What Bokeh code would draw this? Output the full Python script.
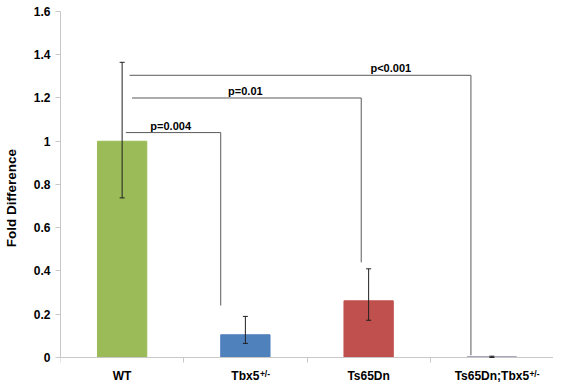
from bokeh.plotting import figure
from bokeh.models import ColumnDataSource, Range1d, FixedTicker, Whisker, TeeHead
from bokeh.core.properties import value
from bokeh.embed import file_html
from bokeh.resources import INLINE

# ---- data ----
categories = ["WT", "Tbx5", "Ts65Dn", "Ts65Dn;Tbx5"]
superscripts = ["", "+/-", "", "+/-"]
fold = [1.0, 0.105, 0.262, 0.003]
err_upper = [1.365, 0.19, 0.41, 0.006]
err_lower = [0.738, 0.065, 0.172, 0.0]
colors = ["#9BBB59", "#4F81BD", "#C0504D", "#8C8CA8"]
y_ticks = [0, 0.2, 0.4, 0.6, 0.8, 1.0, 1.2, 1.4, 1.6]
y_tick_labels = ["0", "0.2", "0.4", "0.6", "0.8", "1", "1.2", "1.4", "1.6"]

bracket_labels = ["p=0.004", "p=0.01", "p<0.001"]
bracket_left = [0.53, 0.58, 0.56]
bracket_right = [1.30, 2.44, 3.33]
bracket_top = [1.04, 1.20, 1.305]
bracket_bottom = [0.24, 0.44, 0.01]
bracket_label_x = [0.894, 1.50, 2.68]

FONT = "Liberation Sans"

xpos = [i + 0.5 for i in range(len(categories))]

p = figure(frame_width=493, frame_height=373, output_backend="svg", toolbar_location=None,
           x_range=Range1d(0, len(categories)), y_range=Range1d(-0.125, 1.6),
           min_border_left=55, min_border_right=0, min_border_top=11, min_border_bottom=0)
p.outline_line_color = None
p.xgrid.visible = False
p.ygrid.visible = False
p.background_fill_color = "white"

src = ColumnDataSource(dict(x=xpos, top=fold, upper=err_upper, lower=err_lower, color=colors))
p.vbar(x="x", top="top", bottom=0, width=0.4, color="color", source=src)

w = Whisker(base="x", upper="upper", lower="lower", source=src, level="overlay",
            line_color="#202020", line_width=1,
            upper_head=TeeHead(size=5, line_color="#202020", line_width=1),
            lower_head=TeeHead(size=5, line_color="#202020", line_width=1))
p.add_layout(w)

# significance brackets
xs = [[l, r, r] for l, r in zip(bracket_left, bracket_right)]
ys = [[t, t, b] for t, b in zip(bracket_top, bracket_bottom)]
p.multi_line(xs=xs, ys=ys, line_color="#5a5a5a", line_width=1)
p.text(x=bracket_label_x, y=bracket_top, text=bracket_labels,
       text_align="center", text_baseline="bottom", y_offset=-1,
       text_font=value(FONT), text_font_style="bold", text_font_size="11px",
       text_color="black")

# x axis, drawn at y = 0 inside the frame
xa = p.xaxis[0]
xa.fixed_location = 0
xa.ticker = FixedTicker(ticks=xpos, minor_ticks=list(range(len(categories) + 1)))
xa.major_label_overrides = {x: c for x, c in zip(xpos, categories)}
xa.major_tick_line_color = None
xa.major_tick_in = 0
xa.major_tick_out = 6
xa.minor_tick_in = 0
xa.minor_tick_out = 5
xa.minor_tick_line_color = "#c8c8c8"
xa.axis_line_color = "#c8c8c8"
xa.major_label_standoff = 6
xa.major_label_text_font = FONT
xa.major_label_text_font_style = "bold"
xa.major_label_text_font_size = "12px"
xa.major_label_text_color = "black"

# superscripts on category labels
sup_x = [x for x, s in zip(xpos, superscripts) if s]
sup_t = [s for s in superscripts if s]
sup_off = [14.5 if c == "Tbx5" else 37.5 for c, s in zip(categories, superscripts) if s]
p.text(x=sup_x, y=[0] * len(sup_x), text=sup_t, x_offset=sup_off, y_offset=12,
       text_align="left", text_baseline="top",
       text_font=value(FONT), text_font_style="bold", text_font_size="8.5px",
       text_color="black")

# y axis
ya = p.yaxis[0]
ya.bounds = (0, 1.6)
ya.ticker = FixedTicker(ticks=y_ticks, minor_ticks=[])
ya.major_label_overrides = {t: l for t, l in zip(y_ticks, y_tick_labels)}
ya.axis_line_color = "#c8c8c8"
ya.major_tick_line_color = "#c8c8c8"
ya.major_tick_in = 0
ya.major_tick_out = 5
ya.major_label_standoff = 5
ya.major_label_text_font = FONT
ya.major_label_text_font_style = "bold"
ya.major_label_text_font_size = "12px"
ya.major_label_text_color = "black"
ya.axis_label = "Fold Difference"
ya.axis_label_text_font = FONT
ya.axis_label_text_font_style = "bold"
ya.axis_label_text_font_size = "13.5px"
ya.axis_label_text_color = "black"
ya.axis_label_standoff = 12

open("out.html", "w").write(file_html(p, INLINE))
